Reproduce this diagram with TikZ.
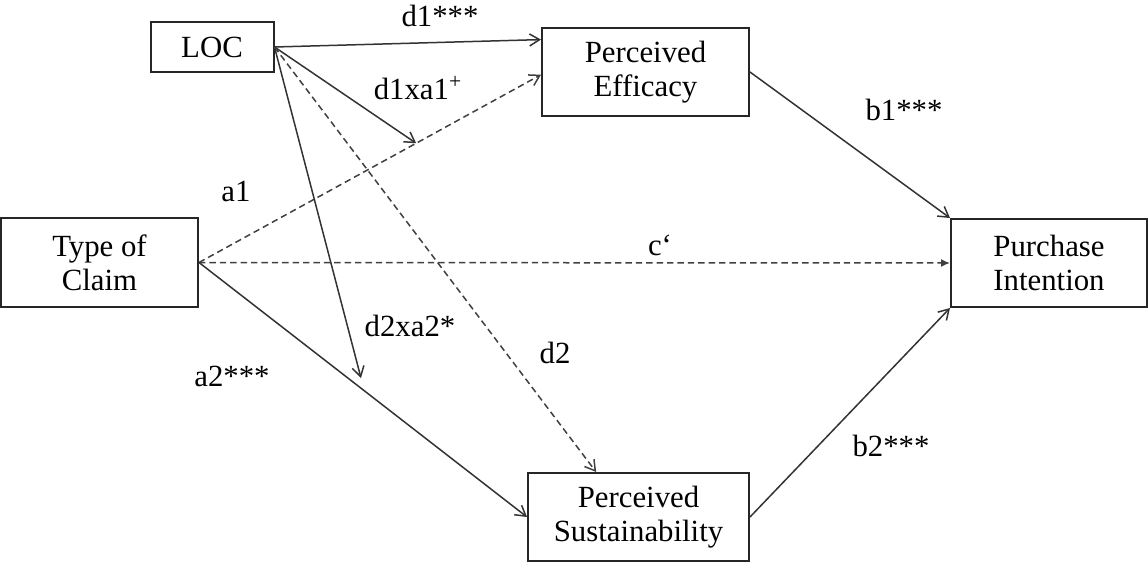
\documentclass[tikz,border=0pt]{standalone}
\usepackage{fontspec}
\setmainfont{Liberation Serif}
\usetikzlibrary{arrows.meta,calc}
\begin{document}
\begin{tikzpicture}[x=0.5pt,y=-0.5pt,
  every node/.style={font=\fontsize{15.4}{17}\selectfont},
  box/.style={draw=black!85,line width=1pt,align=center,inner sep=0pt},
  lbl/.style={inner sep=0pt},
  solidarr/.style={draw=black!80,line width=0.75pt,-{Straight Barb[length=5pt,width=6pt]}},
  dasharr/.style={draw=black!75,line width=0.75pt,dash pattern=on 3.2pt off 2pt,-{Straight Barb[length=5pt,width=6pt]}},
  dashfill/.style={draw=black!75,line width=0.75pt,dash pattern=on 3.2pt off 2pt,-{Latex[length=4.5pt,width=4pt]}}]
\useasboundingbox (0,0) rectangle (1148,563);
% boxes
\node[box,minimum width=61.5pt,minimum height=25pt] (loc) at (212,47) {LOC};
\node[box,minimum width=103.5pt,minimum height=44pt] (pe) at (645.5,72) {Perceived\\Efficacy};
\node[box,minimum width=98.5pt,minimum height=44.5pt] (tc) at (99.5,262.5) {Type of\\Claim};
\node[box,minimum width=110.5pt,minimum height=44pt] (ps) at (638.5,517) {Perceived\\Sustainability};
\node[box,minimum width=98pt,minimum height=44pt] (pi) at (1049,263) {Purchase\\Intention};
% helper coordinates
\coordinate (peA) at ($(pe.north west)!0.14!(pe.south west)$);
\coordinate (peB) at ($(pe.north west)!0.53!(pe.south west)$);
\coordinate (m1) at ($(tc.east)!0.635!(peB)$);
\coordinate (m2) at (361,378);
\coordinate (psA) at ($(ps.north west)!0.31!(ps.north east)$);
% connectors
\draw[solidarr] (loc.east) -- (peA);
\draw[dasharr] (tc.east) -- (peB);
\draw[solidarr] (loc.east) -- (m1);
\draw[solidarr] (loc.east) -- (m2);
\draw[dasharr] (loc.east) -- (psA);
\draw[solidarr] (tc.east) -- (ps.west);
\draw[dashfill] (tc.east) -- (pi.west);
\draw[solidarr] (pe.east) -- (pi.north west);
\draw[solidarr] (ps.east) -- (pi.south west);
% labels
\node[lbl] (ld1) at (440,16) {d1***};
\node[lbl] (ld1a1) at (418,88) {d1xa1\textsuperscript{+}};
\node[lbl] (la1) at (236,191) {a1};
\node[lbl] (la2) at (232,376) {a2***};
\node[lbl] (ld2a2) at (410,326) {d2xa2*};
\node[lbl] (ld2) at (555,353) {d2};
\node[lbl] (lc) at (660,245) {c‘};
\node[lbl] (lb1) at (904,110) {b1***};
\node[lbl] (lb2) at (891,446) {b2***};
\end{tikzpicture}
\end{document}
